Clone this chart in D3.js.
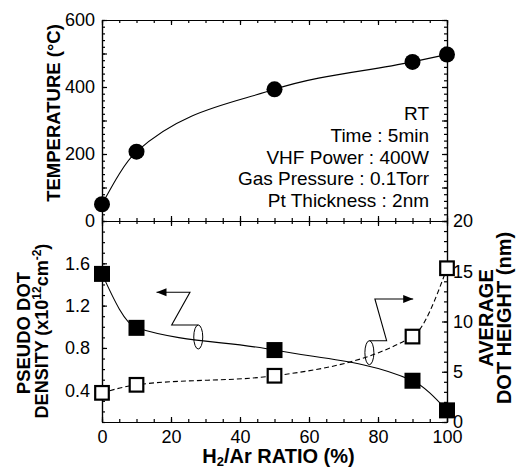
<!DOCTYPE html>
<html>
<head>
<title>H2/Ar ratio dependence</title>
<style>
    body { margin: 0; background: #fff; }
    svg { font-family: "Liberation Sans", Arial, sans-serif; }
    .axis path, .axis line { stroke: #000; stroke-width: 1.2; }
    .axis text { font-size: 18px; fill: #000; }
    .title { font-weight: bold; fill: #000; }
</style>
</head>
<body>
<svg id="chart" width="523" height="469"></svg>
<script src="https://d3js.org/d3.v7.min.js"></script>
<script>
// data
const ratio = [0, 10, 50, 90, 100];                  // H2/Ar ratio (%)
const temperature = [50, 207, 393, 475, 497];         // deg C
const density = [1.50, 0.99, 0.78, 0.49, 0.21];       // x10^12 cm^-2
const dotHeight = [2.9, 3.7, 4.6, 8.5, 15.3];         // nm

const xMajor = [0, 20, 40, 60, 80, 100];
const tempLabels = [0, 200, 400, 600];
const densityLabels = [0.4, 0.8, 1.2, 1.6];
const heightLabels = [0, 5, 10, 15, 20];
const conditions = ['RT', 'Time : 5min', 'VHF Power : 400W', 'Gas Pressure : 0.1Torr', 'Pt Thickness : 2nm'];

const svg = d3.select('#chart');

const x = d3.scaleLinear().domain([0, 100]).range([102, 447]);
const yTemp = d3.scaleLinear().domain([0, 600]).range([221, 20]);
const yDen = d3.scaleLinear().domain([0.1, 2.0]).range([422, 221]);
const yHt = d3.scaleLinear().domain([0, 20]).range([422, 221]);

const xMinor = d3.range(0, 101, 5);

function addAxis(axis, tx, ty) {
    svg.append('g').attr('class', 'axis')
        .attr('transform', `translate(${tx},${ty})`)
        .call(axis)
        .call(g => g.select('.domain').attr('fill', 'none'));
}
const noLabel = () => '';

// ---- top panel axes
addAxis(d3.axisTop(x).tickValues(xMinor).tickSize(-3).tickSizeOuter(0).tickFormat(noLabel), 0, 20);
addAxis(d3.axisTop(x).tickValues(xMajor).tickSize(-5).tickSizeOuter(0).tickFormat(noLabel), 0, 20);
addAxis(d3.axisBottom(x).tickValues(xMinor).tickSize(-3).tickSizeOuter(0).tickFormat(noLabel), 0, 221);
addAxis(d3.axisBottom(x).tickValues(xMajor).tickSize(-5).tickSizeOuter(0).tickFormat(noLabel), 0, 221);
addAxis(d3.axisLeft(yTemp).tickValues(d3.range(0, 601, 20)).tickSize(-3).tickSizeOuter(0).tickFormat(noLabel), 102, 0);
addAxis(d3.axisLeft(yTemp).tickValues(d3.range(0, 601, 100)).tickSize(-5).tickSizeOuter(0)
    .tickPadding(7).tickFormat(d => tempLabels.includes(d) ? d : ''), 102, 0);
addAxis(d3.axisRight(yTemp).tickValues(d3.range(0, 601, 20)).tickSize(-3).tickSizeOuter(0).tickFormat(noLabel), 447, 0);
addAxis(d3.axisRight(yTemp).tickValues(d3.range(0, 601, 100)).tickSize(-5).tickSizeOuter(0).tickFormat(noLabel), 447, 0);

// ---- bottom panel axes
addAxis(d3.axisTop(x).tickValues(xMinor).tickSize(-3).tickSizeOuter(0).tickFormat(noLabel), 0, 221);
addAxis(d3.axisTop(x).tickValues(xMajor).tickSize(-5).tickSizeOuter(0).tickFormat(noLabel), 0, 221);
addAxis(d3.axisBottom(x).tickValues(xMinor).tickSize(-3).tickSizeOuter(0).tickFormat(noLabel), 0, 422);
addAxis(d3.axisBottom(x).tickValues(xMajor).tickSize(-5).tickSizeOuter(0).tickPadding(8), 0, 422);
addAxis(d3.axisLeft(yDen).tickValues(d3.range(1, 21).map(d => d / 10)).tickSize(-3).tickSizeOuter(0).tickFormat(noLabel), 102, 0);
addAxis(d3.axisLeft(yDen).tickValues(densityLabels).tickSize(-5).tickSizeOuter(0)
    .tickPadding(12).tickFormat(d3.format('.1f')), 102, 0);
addAxis(d3.axisRight(yHt).tickValues(d3.range(0, 21, 1)).tickSize(-3).tickSizeOuter(0).tickFormat(noLabel), 447, 0);
addAxis(d3.axisRight(yHt).tickValues(heightLabels).tickSize(-5).tickSizeOuter(0).tickPadding(6), 447, 0);

// ---- curves
const tempPts = ratio.map((r, i) => [x(r), yTemp(temperature[i])]);
const denPts = ratio.map((r, i) => [x(r), yDen(density[i])]);
const htPts = ratio.map((r, i) => [x(r), yHt(dotHeight[i])]);
const line = d3.line().curve(d3.curveMonotoneX);

svg.append('path').attr('d', line(tempPts)).attr('fill', 'none').attr('stroke', '#000').attr('stroke-width', 1.1);
svg.append('path').attr('d', line(denPts)).attr('fill', 'none').attr('stroke', '#000').attr('stroke-width', 1.1);
svg.append('path').attr('d', line(htPts)).attr('fill', 'none').attr('stroke', '#000')
    .attr('stroke-width', 1.1).attr('stroke-dasharray', '5,3');

// ---- markers
svg.append('g').selectAll('circle').data(tempPts).join('circle')
    .attr('cx', d => d[0]).attr('cy', d => d[1]).attr('r', 8).attr('fill', '#000');
svg.append('g').selectAll('rect').data(denPts).join('rect')
    .attr('x', d => d[0] - 8).attr('y', d => d[1] - 8).attr('width', 16).attr('height', 16).attr('fill', '#000');
svg.append('g').selectAll('rect').data(htPts).join('rect')
    .attr('x', d => d[0] - 6.8).attr('y', d => d[1] - 6.8).attr('width', 13.6).attr('height', 13.6)
    .attr('fill', '#fff').attr('stroke', '#000').attr('stroke-width', 2.2);

// ---- series pointers (arrow + ellipse around a curve)
function pointer(pts, tip, dir, ell) {
    svg.append('path').attr('d', d3.line()(pts)).attr('fill', 'none').attr('stroke', '#000').attr('stroke-width', 1.1);
    svg.append('path')
        .attr('d', `M${tip[0]},${tip[1]} l${-dir * 10},-4 l0,8 Z`)
        .attr('fill', '#000');
    svg.append('ellipse').attr('cx', ell[0]).attr('cy', ell[1]).attr('rx', 4.5).attr('ry', 12)
        .attr('fill', 'none').attr('stroke', '#000').attr('stroke-width', 1);
}
// left pointer -> density axis
pointer([[x(15.8), yDen(1.326)], [x(25.5), yDen(1.326)], [x(20.2), yDen(1.017)], [x(27.9), yDen(1.017)]],
    [x(15.8), yDen(1.326)], -1, [x(27.9), yDen(1.017) + 12]);
// right pointer -> height axis
pointer([[x(90.2), yHt(12.24)], [x(79.1), yHt(12.24)], [x(82.5), yHt(8.09)], [x(77.5), yHt(8.09)]],
    [x(90.2), yHt(12.24)], 1, [x(77.5), yHt(8.09) + 12]);

// ---- process conditions
svg.append('g').selectAll('text').data(conditions).join('text')
    .attr('x', x(94.8)).attr('y', (d, i) => 120.3 + i * 21.6)
    .attr('text-anchor', 'end').attr('font-size', 19).text(d => d);

// ---- axis titles
svg.append('text').attr('class', 'title').attr('font-size', 18.5)
    .attr('transform', 'translate(60,113) rotate(-90)').attr('text-anchor', 'middle')
    .text('TEMPERATURE (\u00B0C)');

svg.append('text').attr('class', 'title').attr('font-size', 18.5)
    .attr('transform', 'translate(30,333) rotate(-90)').attr('text-anchor', 'middle')
    .text('PSEUDO DOT');
const den = svg.append('text').attr('class', 'title').attr('font-size', 18)
    .attr('transform', 'translate(48,331) rotate(-90)').attr('text-anchor', 'middle');
den.append('tspan').text('DENSITY (x10');
den.append('tspan').attr('font-size', 12).attr('dy', -7).text('12');
den.append('tspan').attr('dy', 7).text('cm');
den.append('tspan').attr('font-size', 12).attr('dy', -7).text('-2');
den.append('tspan').attr('dy', 7).text(')');

svg.append('text').attr('class', 'title').attr('font-size', 20)
    .attr('transform', 'translate(493,318) rotate(-90)').attr('text-anchor', 'middle')
    .text('AVERAGE');
svg.append('text').attr('class', 'title').attr('font-size', 20)
    .attr('transform', 'translate(511,318) rotate(-90)').attr('text-anchor', 'middle')
    .text('DOT HEIGHT (nm)');

const xt = svg.append('text').attr('class', 'title').attr('font-size', 20)
    .attr('x', x(50) + 4).attr('y', 463).attr('text-anchor', 'middle');
xt.append('tspan').text('H');
xt.append('tspan').attr('font-size', 13).attr('dy', 3).text('2');
xt.append('tspan').attr('dy', -3).text('/Ar RATIO (%)');
</script>
</body>
</html>
